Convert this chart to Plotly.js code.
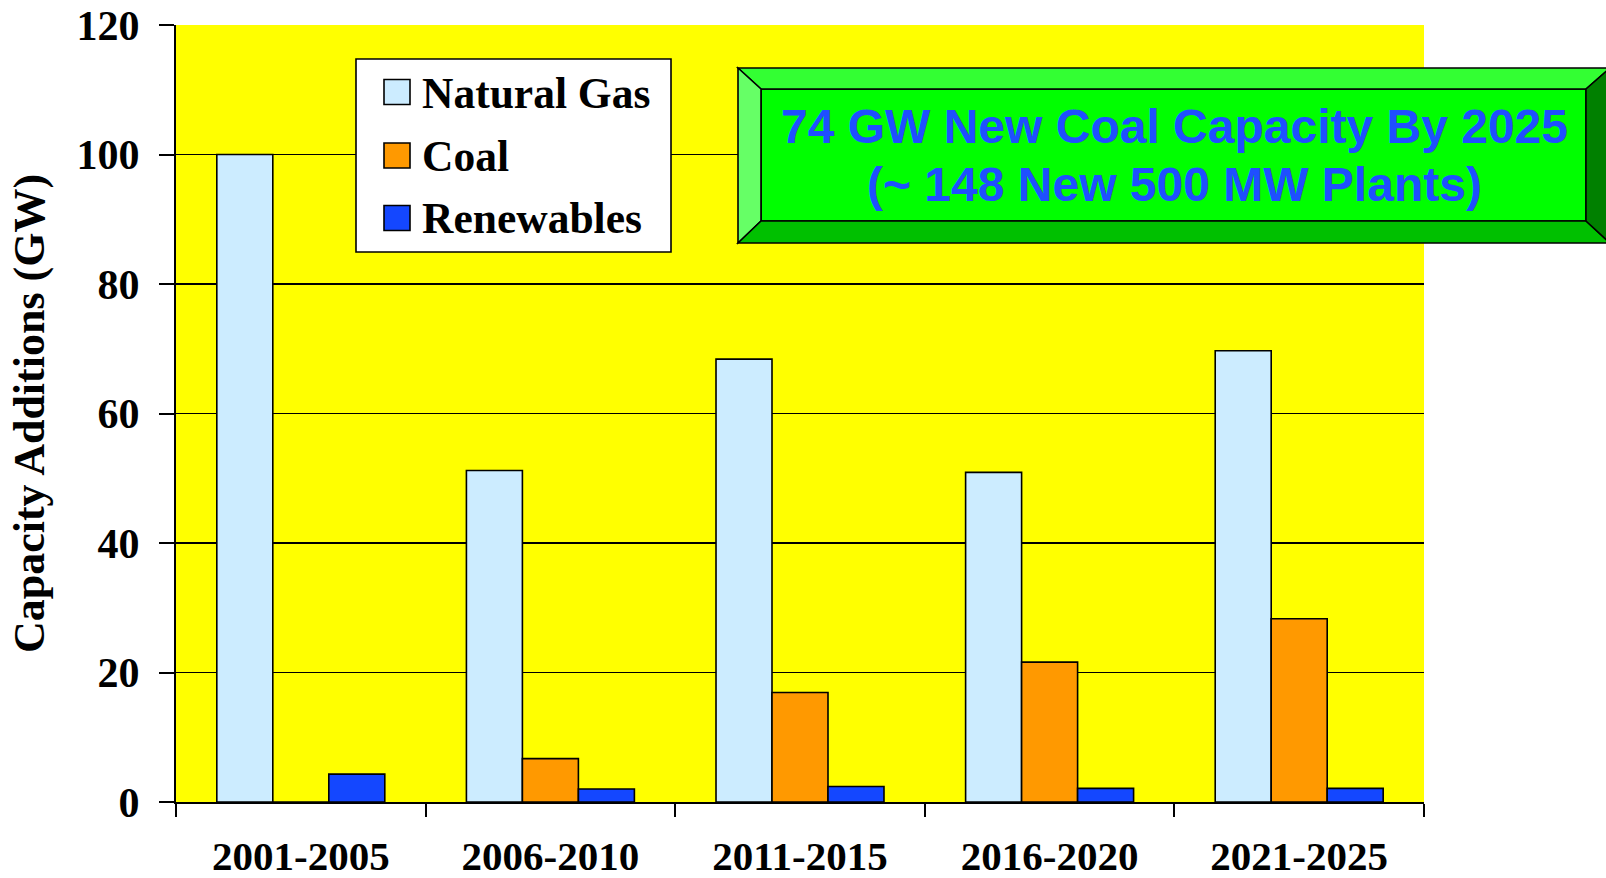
<!DOCTYPE html>
<html><head><meta charset="utf-8">
<script src="https://cdn.plot.ly/plotly-3.0.1.min.js"></script>
<style>html,body{margin:0;padding:0;background:#fff;}#chart{width:1606px;height:878px;}</style>
</head><body><div id="chart"></div>
<script>
// ---- data ----
const periods = ['2001-2005', '2006-2010', '2011-2015', '2016-2020', '2021-2025'];
const naturalGas = [100, 51.2, 68.4, 50.9, 69.7];
const coal = [0, 6.7, 16.9, 21.6, 28.3];
const renewables = [4.3, 2.0, 2.4, 2.1, 2.1];
const seriesNames = ['Natural Gas', 'Coal', 'Renewables'];
const seriesColors = ['#CCECFF', '#FF9900', '#1447FF'];
const yTickVals = [0, 20, 40, 60, 80, 100, 120];
const yTitle = 'Capacity Additions (GW)';
const calloutLines = ['74 GW New Coal Capacity By 2025', '(~ 148 New 500 MW Plants)'];

// ---- geometry helpers (pixel -> paper) ----
const W = 1606, H = 878;
const M = {l: 176, r: 182, t: 25, b: 76};
const PW = W - M.l - M.r, PH = H - M.t - M.b;
const px = v => (v - M.l) / PW;
const py = v => (H - M.b - v) / PH;

const serif = 'Liberation Serif, Times New Roman, serif';
const sans = 'Liberation Sans, Arial, sans-serif';

const seriesValues = [naturalGas, coal, renewables];
const traces = seriesNames.map((name, i) => ({
  type: 'bar',
  name: name,
  x: periods,
  y: seriesValues[i],
  marker: {color: seriesColors[i], line: {color: '#000', width: 1.6}},
  showlegend: false,
  hoverinfo: 'x+y+name'
}));

const shapes = [];
const annotations = [];

// custom legend (box, swatches, labels)
shapes.push({type: 'rect', xref: 'paper', yref: 'paper', x0: px(356), x1: px(671), y0: py(59), y1: py(252),
  fillcolor: '#fff', line: {color: '#000', width: 1.6}, layer: 'above'});
const legendRowY = [92, 155.5, 218];
seriesNames.forEach((name, i) => {
  shapes.push({type: 'rect', xref: 'paper', yref: 'paper', x0: px(384), x1: px(410),
    y0: py(legendRowY[i] - 12.5), y1: py(legendRowY[i] + 12.5),
    fillcolor: seriesColors[i], line: {color: '#000', width: 1.6}, layer: 'above'});
  annotations.push({xref: 'paper', yref: 'paper', x: px(420), y: py(legendRowY[i] + 0.5), xanchor: 'left', yanchor: 'middle',
    text: '<b>' + name + '</b>', showarrow: false, font: {family: serif, size: 43.5, color: '#000'}});
});

// bevelled green callout box
const oL = 738, oR = 1610, oT = 68, oB = 243, iL = 761, iR = 1586, iT = 89, iB = 221;
function poly(pts) { return 'M' + pts.map(p => px(p[0]) + ',' + py(p[1])).join('L') + 'Z'; }
const bevel = [
  {pts: [[iL, iT], [iR, iT], [iR, iB], [iL, iB]], c: '#00FF00'},
  {pts: [[oL, oT], [oR, oT], [iR, iT], [iL, iT]], c: '#33FF33'},
  {pts: [[oL, oT], [iL, iT], [iL, iB], [oL, oB]], c: '#66FF66'},
  {pts: [[oL, oB], [iL, iB], [iR, iB], [oR, oB]], c: '#00C000'},
  {pts: [[oR, oT], [iR, iT], [iR, iB], [oR, oB]], c: '#008000'}
];
bevel.forEach(b => shapes.push({type: 'path', xref: 'paper', yref: 'paper', path: poly(b.pts),
  fillcolor: b.c, line: {color: '#000', width: 1.6}, layer: 'above'}));
const calloutY = [127, 185];
calloutLines.forEach((t, i) => annotations.push({xref: 'paper', yref: 'paper', x: px(1174), y: py(calloutY[i]),
  xanchor: 'center', yanchor: 'middle', showarrow: false, text: '<b>' + t + '</b>',
  font: {family: sans, size: 48, color: '#1F4FFF'}}));

const layout = {
  width: W, height: H,
  margin: {l: M.l, r: M.r, t: M.t, b: M.b, pad: 0},
  paper_bgcolor: '#fff',
  plot_bgcolor: '#FFFF00',
  barmode: 'group',
  bargap: 0.327,
  bargroupgap: 0,
  showlegend: false,
  xaxis: {
    type: 'category', showgrid: false, showline: true, linecolor: '#000', linewidth: 2,
    ticks: 'outside', tickson: 'boundaries', ticklen: 13, tickwidth: 2, tickcolor: '#000',
    tickfont: {family: serif, size: 41, color: '#000', weight: 'bold'},
    ticklabelstandoff: 17,
    fixedrange: true
  },
  yaxis: {
    range: [0, 120], tickvals: yTickVals, ticktext: yTickVals.map(String),
    showgrid: true, gridcolor: '#000', gridwidth: 1.6, zeroline: false,
    showline: true, linecolor: '#000', linewidth: 2,
    ticks: 'outside', ticklen: 15, tickwidth: 2, tickcolor: '#000',
    tickfont: {family: serif, size: 42, color: '#000', weight: 'bold'},
    ticklabelstandoff: 11,
    title: {text: '<b>' + yTitle + '</b>', font: {family: serif, size: 44, color: '#000'}, standoff: 18},
    automargin: false,
    fixedrange: true
  },
  shapes: shapes,
  annotations: annotations
};

Plotly.newPlot('chart', traces, layout, {displayModeBar: false, staticPlot: true});
</script>
</body></html>
